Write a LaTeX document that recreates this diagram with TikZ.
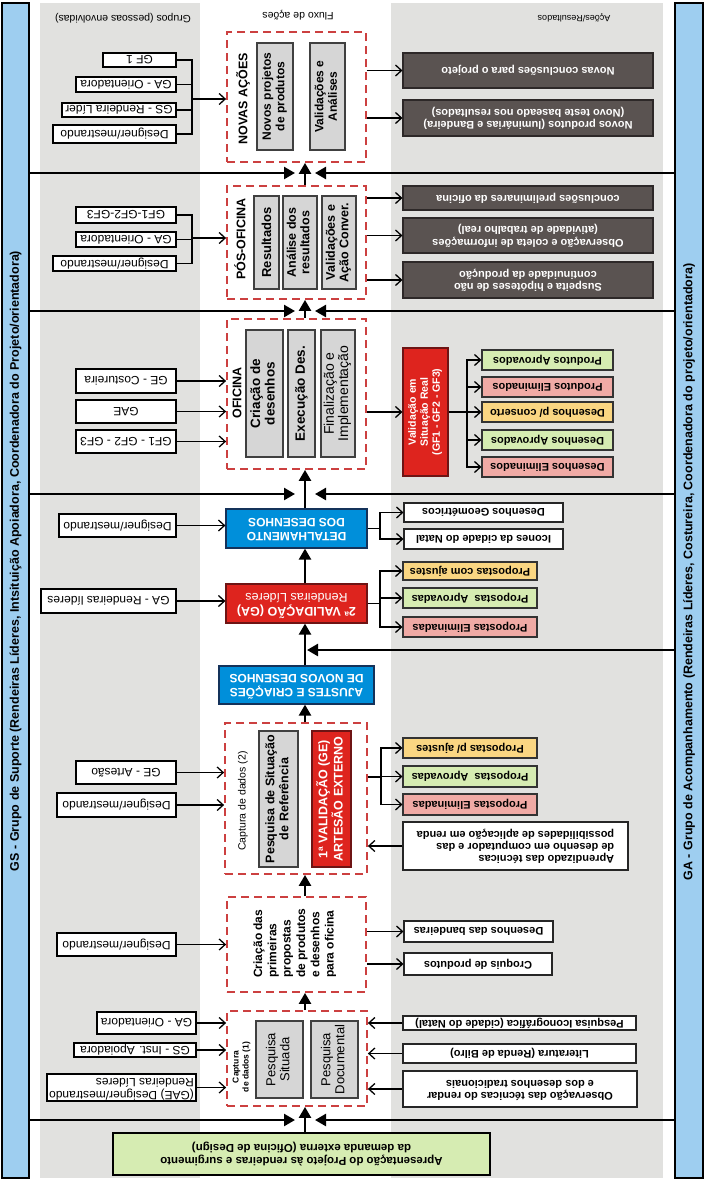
\documentclass[tikz,border=0pt]{standalone}
\usepackage{graphicx}
\usepackage{fontspec}
\setmainfont{Liberation Sans}
\usetikzlibrary{arrows.meta}
\definecolor{barblue}{RGB}{158,206,240}
\definecolor{colgray}{RGB}{225,225,223}
\definecolor{dred}{RGB}{204,64,64}
\definecolor{gfill}{RGB}{214,214,214}
\definecolor{gborder}{RGB}{64,64,64}
\definecolor{bfill}{RGB}{0,143,218}
\definecolor{bborder}{RGB}{20,50,90}
\definecolor{rfill}{RGB}{222,36,30}
\definecolor{rborder}{RGB}{110,20,20}
\definecolor{kfill}{RGB}{90,83,81}
\definecolor{kborder}{RGB}{45,40,40}
\definecolor{cgreen}{RGB}{214,236,178}
\definecolor{cpink}{RGB}{240,170,165}
\definecolor{cyellow}{RGB}{250,214,130}
\newcommand\rUD[1]{\rotatebox{180}{#1}}
\newcommand\rUDc[1]{\rotatebox{180}{\begin{tabular}{@{}c@{}}#1\end{tabular}}}
\newcommand\rUDl[1]{\rotatebox{180}{\begin{tabular}{@{}l@{}}#1\end{tabular}}}
\newcommand\rVT[1]{\rotatebox{90}{#1}}
\newcommand\rVTc[1]{\rotatebox{90}{\begin{tabular}{@{}c@{}}#1\end{tabular}}}
\newcommand\rVTl[1]{\rotatebox{90}{\begin{tabular}{@{}l@{}}#1\end{tabular}}}
\newcommand\mkbox[7]{\node[#1, minimum width={(#5)-(#3)}, minimum height={(#6)-(#4)}] (#2) at ({((#3)+(#5))/2},{((#4)+(#6))/2}) {#7};}
\tikzset{
 lbox/.style={draw=black, line width=1.1pt, fill=white, inner sep=0.5pt, font=\fontsize{12}{13}\selectfont},
 wbox/.style={draw=black!85, line width=1.1pt, fill=white, inner sep=0.5pt, font=\bfseries\fontsize{11}{12}\selectfont},
 kbox/.style={draw=kborder, line width=1.1pt, fill=kfill, text=white, inner sep=0.5pt, font=\bfseries\fontsize{11}{12.5}\selectfont},
 cbox/.style={draw=black!80, line width=1.1pt, inner sep=0.5pt, font=\bfseries\fontsize{11}{12}\selectfont},
 gbox/.style={draw=gborder, line width=1.1pt, fill=gfill, inner sep=0.5pt},
 dbox/.style={draw=dred, line width=1.8pt, dash pattern=on 8pt off 5pt},
 bbox/.style={draw=bborder, line width=1.2pt, fill=bfill, text=white, inner sep=0.5pt, font=\bfseries\fontsize{12}{14}\selectfont},
 rbox/.style={draw=rborder, line width=1.2pt, fill=rfill, text=white, inner sep=0.5pt},
 grbox/.style={draw=black, line width=2.6pt, fill=cgreen, inner sep=0.5pt, font=\bfseries\fontsize{11.5}{13}\selectfont},
 bar/.style={draw=black, line width=2.2pt, fill=barblue},
 bartext/.style={font=\bfseries\fontsize{12.5}{14}\selectfont, inner sep=0},
 conn/.style={line width=1.3pt},
 arr/.style={line width=1.3pt, -{Straight Barb[length=6pt,width=11pt]}},
 flow/.style={line width=2.4pt, -{Triangle[length=11pt,width=12pt]}},
 sepl/.style={line width=2.4pt, -{Triangle[length=11pt,width=12pt]}},
 lab/.style={inner sep=0},
}
\begin{document}
\begin{tikzpicture}[x=1pt,y=-1pt]
\useasboundingbox (0,0) rectangle (706,1181);
\fill[white] (0,0) rectangle (706,1181);
% columns
\fill[colgray] (40,3) rectangle (200,1178);
\fill[colgray] (391,3) rectangle (663,1178);
% side bars
\mkbox{bar}{LB}{2}{3}{29}{1178}{}
\mkbox{bar}{RB}{675}{3}{703}{1178}{}
\node[bartext] (LBt) at (15.5,561) {\rVT{GS - Grupo de Suporte (Rendeiras Líderes, Intsituição Apoiadora, Coordenadora do Projeto/orientadora)}};
\node[bartext] (RBt) at (689,572) {\rVT{GA - Grupo de Acompanhamento (Rendeiras Líderes, Costureira, Coordenadora do projeto/orientadora)}};
% headers
\node[lab, font=\fontsize{10.5}{12}\selectfont] (h1) at (123,18) {\rUD{Grupos (pessoas envolvidas)}};
\node[lab, font=\fontsize{10.5}{12}\selectfont] (h2) at (298,15) {\rUD{Fluxo de ações}};
\node[lab, font=\fontsize{9}{11}\selectfont] (h3) at (574,18) {\rUD{Ações/Resultados}};
% separator lines
\coordinate (cx) at (305,0);
\foreach \yy [count=\i] in {173,311,494,1120} {
  \coordinate (s\i) at (305,\yy);
  \draw[sepl] (s\i -| LB.east) -- ([xshift=-10pt]s\i);
  \draw[sepl] (s\i -| RB.west) -- ([xshift=10pt]s\i);
}
\coordinate (s5) at (305,650);
\draw[sepl] (s5 -| RB.west) -- ([xshift=2pt]s5);
% ---------- center column ----------
\mkbox{dbox}{D1}{227}{32}{366}{162}{}
\node[lab, font=\bfseries\fontsize{12.5}{14}\selectfont] (t1) at (243,99) {\rVT{NOVAS AÇÕES}};
\mkbox{gbox, font=\bfseries\fontsize{12}{13.5}\selectfont}{G1a}{257}{43}{293}{150}{\rVTc{Novos projetos\\de produtos}}
\mkbox{gbox, font=\bfseries\fontsize{12}{13.5}\selectfont}{G1b}{310}{43}{345}{150}{\rVTc{Validações e\\Análises}}
\mkbox{dbox}{D2}{227}{186}{366}{299}{}
\node[lab, font=\bfseries\fontsize{12.5}{14}\selectfont] (t2) at (240,239) {\rVT{PÓS-OFICINA}};
\mkbox{gbox, font=\bfseries\fontsize{13}{14}\selectfont}{G2a}{254}{196}{279}{289}{\rVT{Resultados}}
\mkbox{gbox, font=\bfseries\fontsize{12.5}{13.5}\selectfont}{G2b}{283}{196}{317}{289}{\rVTc{Análise dos\\resultados}}
\mkbox{gbox, font=\bfseries\fontsize{12.5}{13.5}\selectfont}{G2c}{322}{196}{356}{289}{\rVTc{Validações e\\Ação Conver.}}
\mkbox{dbox}{D3}{227}{319}{366}{469}{}
\node[lab, font=\bfseries\fontsize{12.5}{14}\selectfont] (t3) at (237,393) {\rVT{OFICINA}};
\mkbox{gbox, font=\bfseries\fontsize{13.5}{14.5}\selectfont}{G3a}{246}{330}{283}{457}{\rVTc{Criação de\\desenhos}}
\mkbox{gbox, font=\bfseries\fontsize{13.5}{14.5}\selectfont}{G3b}{288}{330}{315}{457}{\rVT{Execução Des.}}
\mkbox{gbox, font=\fontsize{14}{14}\selectfont}{G3c}{321}{330}{355}{457}{\rVTc{Finalização e\\Implementação}}
\mkbox{bbox}{B1}{226}{509}{367}{548}{\rUDc{DETALHAMENTO\\DOS DESENHOS}}
\mkbox{rbox, font=\fontsize{12.5}{14}\selectfont}{R1}{226}{584}{367}{623}{\rUDc{\textbf{2ª VALIDAÇÃO (GA)}\\Rendeiras Líderes}}
\mkbox{bbox}{B2}{219}{666}{374}{704}{\rUDc{AJUSTES E CRIAÇÕES\\DE NOVOS DESENHOS}}
\mkbox{dbox}{D4}{225}{723}{367}{874}{}
\node[lab, font=\fontsize{10.5}{12}\selectfont] (t4) at (243,801) {\rVT{Captura de dados (2)}};
\mkbox{gbox, font=\bfseries\fontsize{12.5}{14}\selectfont}{G4a}{259}{731}{298}{867}{\rVTc{Pesquisa de Situação\\de Referência}}
\mkbox{rbox, font=\bfseries\fontsize{12.5}{14}\selectfont}{R4b}{312}{731}{351}{867}{\rVTc{1ª VALIDAÇÃO (GE)\\ARTESÃO EXTERNO}}
\mkbox{dbox}{D5}{227}{897}{366}{992}{}
\node[lab, font=\bfseries\fontsize{12}{14.3}\selectfont] (t5) at (295,943) {\rVTl{Criação das\\primeiras\\propostas\\de produtos\\e desenhos\\para oficina}};
\mkbox{dbox}{D6}{227}{1011}{367}{1106}{}
\node[lab, font=\bfseries\fontsize{8.5}{10}\selectfont] (t6) at (241.5,1067) {\rVTc{Captura\\de dados (1)}};
\mkbox{gbox, font=\fontsize{13}{14}\selectfont}{G6a}{256}{1021}{303}{1098}{\rVTc{Pesquisa\\Situada}}
\mkbox{gbox, font=\fontsize{13}{14}\selectfont}{G6b}{311}{1021}{358}{1098}{\rVTc{Pesquisa\\Documental}}
\mkbox{grbox}{GR}{113}{1133}{490}{1175}{\rUDc{Apresentação do Projeto às rendeiras e surgimento\\da demanda externa (Oficina de Design)}}
% flow arrows
\draw[flow] (GR.north -| cx) -- (D6.south -| cx);
\draw[flow] (D6.north -| cx) -- (D5.south -| cx);
\draw[flow] (D5.north -| cx) -- (D4.south -| cx);
\draw[flow] (D4.north -| cx) -- (B2.south -| cx);
\draw[flow] (B2.north -| cx) -- (R1.south -| cx);
\draw[flow] (R1.north -| cx) -- (B1.south -| cx);
\draw[flow] (B1.north -| cx) -- (D3.south -| cx);
\draw[flow] (D3.north -| cx) -- (D2.south -| cx);
\draw[flow] (D2.north -| cx) -- (D1.south -| cx);
% ---------- left column ----------
\mkbox{lbox}{L1a}{103}{53}{176}{67}{\rUD{GF 1}}
\mkbox{lbox}{L1b}{76}{77}{176}{92}{\rUD{GA - Orientadora}}
\mkbox{lbox}{L1c}{62}{103}{176}{117}{\rUD{GS - Rendeira Líder}}
\mkbox{lbox}{L1d}{53}{125}{176}{143}{\rUD{Designer/mestrando}}
\mkbox{lbox}{L2a}{76}{207}{176}{223}{\rUD{GF1-GF2-GF3}}
\mkbox{lbox}{L2b}{76}{232}{176}{247}{\rUD{GA - Orientadora}}
\mkbox{lbox}{L2c}{53}{256}{176}{271}{\rUD{Designer/mestrando}}
\mkbox{lbox}{L3a}{76}{369}{176}{393}{\rUD{GE - Costureira}}
\mkbox{lbox}{L3b}{76}{400}{176}{423}{\rUD{GAE}}
\mkbox{lbox}{L3c}{76}{430}{176}{453}{\rUD{GF1 - GF2 - GF3}}
\mkbox{lbox}{L4}{59}{514}{176}{537}{\rUD{Designer/mestrando}}
\mkbox{lbox}{L5}{41}{589}{176}{613}{\rUD{GA - Rendeiras líderes}}
\mkbox{lbox}{L6a}{76}{761}{176}{784}{\rUD{GE - Artesão}}
\mkbox{lbox}{L6b}{57}{793}{176}{817}{\rUD{Designer/mestrando}}
\mkbox{lbox}{L7}{57}{933}{176}{956}{\rUD{Designer/mestrando}}
\mkbox{lbox}{L8a}{97}{1012}{196}{1034}{\rUD{GA - Orientadora}}
\mkbox{lbox}{L8b}{74}{1043}{196}{1057}{\rUD{GS - Inst. Apoiadora}}
\mkbox{lbox}{L8c}{47}{1074}{196}{1101}{\rUDl{(GAE) Designer/mestrando\\Rendeiras Líderes}}
\coordinate (j1) at (192,99);
\foreach \n in {L1a,L1b,L1c,L1d} \draw[conn] (\n.east) -| (j1);
\draw[arr] (j1) -- (j1 -| D1.west);
\coordinate (j2) at (192,238);
\foreach \n in {L2a,L2b,L2c} \draw[conn] (\n.east) -| (j2);
\draw[arr] (j2) -- (j2 -| D2.west);
\foreach \n in {L3a,L3b,L3c} \draw[arr] (\n.east) -- (\n.east -| D3.west);
\draw[arr] (L4.east) -- (L4.east -| B1.west);
\draw[arr] (L5.east) -- (L5.east -| R1.west);
\foreach \n in {L6a,L6b} \draw[arr] (\n.east) -- (\n.east -| D4.west);
\draw[arr] (L7.east) -- (L7.east -| D5.west);
\foreach \n in {L8a,L8b,L8c} \draw[arr] (\n.east) -- (\n.east -| D6.west);
% ---------- right column ----------
\mkbox{kbox}{K1a}{403}{53}{653}{88}{\rUD{Novas conclusões para o projeto}}
\mkbox{kbox}{K1b}{403}{100}{653}{136}{\rUDc{Novos produtos (luminárias e Bandeira)\\(Novo teste baseado nos resultados)}}
\mkbox{kbox}{K2a}{403}{186}{653}{210}{\rUD{conclusões preliminares da oficina}}
\mkbox{kbox}{K2b}{403}{218}{653}{253}{\rUDc{Observação e coleta de informações\\(atividade de trabalho real)}}
\mkbox{kbox}{K2c}{403}{262}{653}{298}{\rUDc{Suspeita e hipóteses de não\\continuidade da produção}}
\foreach \n in {K1a,K1b} \draw[arr] (\n.west -| D1.east) -- (\n.west);
\foreach \n in {K2a,K2b,K2c} \draw[arr] (\n.west -| D2.east) -- (\n.west);
\mkbox{rbox, font=\bfseries\fontsize{10.5}{12}\selectfont}{RV}{403}{348}{448}{476}{\rVTc{Validação em\\Situação Real\\(GF1 - GF2 - GF3)}}
\mkbox{cbox, fill=cgreen}{C1}{482}{350}{613}{370}{\rUD{Produtos Aprovados}}
\mkbox{cbox, fill=cpink}{C2}{482}{377}{613}{397}{\rUD{Produtos Eliminados}}
\mkbox{cbox, fill=cyellow}{C3}{482}{402}{613}{422}{\rUD{Desenhos p/ conserto}}
\mkbox{cbox, fill=cgreen}{C4}{482}{430}{613}{450}{\rUD{Desenhos Aprovados}}
\mkbox{cbox, fill=cpink}{C5}{482}{457}{613}{477}{\rUD{Desenhos Eliminados}}
\draw[arr] (RV.west -| D3.east) -- (RV.west);
\coordinate (j3) at (467,412);
\draw[conn] (RV.east) -- (j3);
\foreach \n in {C1,C2,C3,C4,C5} \draw[arr] (j3) |- (\n.west);
\mkbox{wbox}{W1}{404}{503}{563}{522}{\rUD{Desenhos Geométricos}}
\mkbox{wbox}{W2}{404}{529}{563}{549}{\rUD{Icones da cidade do Natal}}
\coordinate (j4) at (380,528.5);
\draw[conn] (B1.east) -- (j4);
\foreach \n in {W1,W2} \draw[arr] (j4) |- (\n.west);
\mkbox{cbox, fill=cyellow}{P1}{403}{562}{537}{580}{\rUD{Propostas com ajustes}}
\mkbox{cbox, fill=cgreen}{P2}{403}{588}{537}{608}{\rUD{Propostas\ \ Aprovadas}}
\mkbox{cbox, fill=cpink}{P3}{403}{617}{537}{637}{\rUD{Propostas Eliminadas}}
\coordinate (j5) at (380,603.5);
\draw[conn] (R1.east) -- (j5);
\foreach \n in {P1,P2,P3} \draw[arr] (j5) |- (\n.west);
\mkbox{cbox, fill=cyellow}{Q1}{403}{738}{537}{758}{\rUD{Propostas p/ ajustes}}
\mkbox{cbox, fill=cgreen}{Q2}{403}{766}{537}{787}{\rUD{Propostas\ \ Aprovadas}}
\mkbox{cbox, fill=cpink}{Q3}{403}{794}{537}{815}{\rUD{Propostas Eliminadas}}
\coordinate (j6) at (381,777);
\draw[conn] (D4.east |- j6) -- (j6);
\foreach \n in {Q1,Q2,Q3} \draw[arr] (j6) |- (\n.west);
\mkbox{wbox}{W3}{403}{822}{628}{870}{\rUDl{Aprendizado das técnicas\\de desenho em computador e das\\possibilidades de aplicação em renda}}
\draw[arr] (W3.west) -- (W3.west -| D4.east);
\mkbox{wbox}{W4}{404}{921}{553}{942}{\rUD{Desenhos das bandeiras}}
\mkbox{wbox}{W5}{404}{953}{552}{975}{\rUD{Croquis de produtos}}
\foreach \n in {W4,W5} \draw[arr] (\n.west -| D5.east) -- (\n.west);
\mkbox{wbox}{W6}{403}{1016}{636}{1030}{\rUD{Pesquisa Iconográfica (cidade do Natal)}}
\mkbox{wbox}{W7}{403}{1044}{636}{1063}{\rUD{Literatura (Renda de Bilro)}}
\mkbox{wbox}{W8}{403}{1071}{637}{1107}{\rUDc{Observação das técnicas do rendar\\e dos desenhos tradicionais}}
\foreach \n in {W6,W7,W8} \draw[arr] (\n.west) -- (\n.west -| D6.east);
\end{tikzpicture}
\end{document}
